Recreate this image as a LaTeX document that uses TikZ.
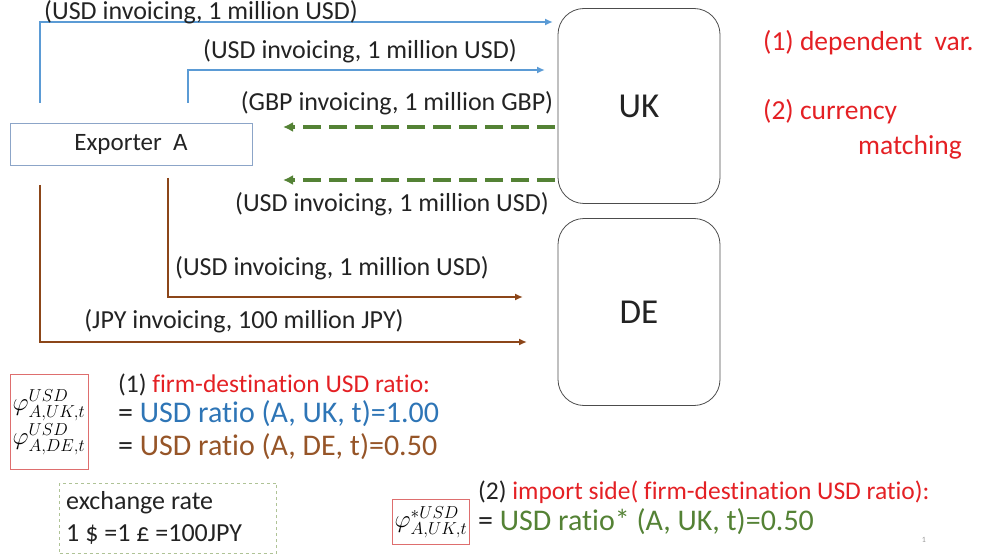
\documentclass[tikz,border=0pt]{standalone}
\usepackage{fontspec}
\setmainfont{Carlito}[Ligatures=NoCommon]
\usepackage{amsmath}
\usetikzlibrary{arrows.meta,positioning}

\definecolor{usdblue}{RGB}{91,155,213}
\definecolor{txtblue}{RGB}{46,117,182}
\definecolor{flowgreen}{RGB}{84,130,53}
\definecolor{flowbrown}{RGB}{140,70,25}
\definecolor{txtbrown}{RGB}{150,85,40}
\definecolor{hired}{RGB}{228,32,36}
\definecolor{boxred}{RGB}{222,110,110}
\definecolor{expframe}{RGB}{140,165,200}
\definecolor{rateframe}{RGB}{175,195,150}
\definecolor{ink}{RGB}{35,35,35}

\newcommand{\phisym}[3]{\varphi^{\scriptscriptstyle #1}_{\scriptscriptstyle #2,#3,t}}

\tikzset{
  country/.style={draw=black!70,rounded corners=26pt,minimum width=162pt,thick,
    font=\fontsize{35}{40}\selectfont,text=ink},
  exporter/.style={draw=expframe,minimum width=242pt,minimum height=42pt,
    font=\fontsize{25}{30}\selectfont,text=ink},
  lbl/.style={font=\fontsize{26}{30}\selectfont,text=ink,inner sep=0pt},
  usd/.style={-{Latex[length=8pt,width=7pt]},usdblue,line width=2.2pt},
  back/.style={-{Latex[length=10pt,width=10pt]},flowgreen,line width=3.5pt,
    dash pattern=on 18pt off 8pt},
  jp/.style={-{Latex[length=8pt,width=7pt]},flowbrown,line width=2.2pt},
  side/.style={font=\fontsize{27.5}{32}\selectfont,text=hired,inner sep=0pt,anchor=west},
  eq/.style={font=\fontsize{30}{34}\selectfont,inner sep=0pt,anchor=west},
  small/.style={font=\fontsize{26}{30}\selectfont,text=ink},
  phibox/.style={draw=boxred,thick,font=\fontsize{35}{36}\selectfont,inner sep=1pt}
}

\begin{document}
\begin{tikzpicture}[x=1pt,y=-1pt]
      \useasboundingbox (0,0) rectangle (990,556);
      \node [country,minimum height=195pt] (uk) at (639,106) {UK};
      \node [country,minimum height=187pt] (de) at (639,312) {DE};
      \node [exporter] (expA) at (131,144) {Exporter\ \ A};

      \coordinate (s1) at (40,103);
      \coordinate (e1) at (553,22);
      \coordinate (s2) at (188,103);
      \coordinate (e2) at (545,70);
      \coordinate (g1s) at (555,127);
      \coordinate (g1e) at (283,127);
      \coordinate (g2s) at (555,180);
      \coordinate (g2e) at (283,180);
      \coordinate (b1s) at (168,178);
      \coordinate (b1e) at (523,297);
      \coordinate (b2s) at (40,185);
      \coordinate (b2e) at (527,342);

      \draw [usd] (s1) |- (e1);
      \draw [usd] (s2) |- (e2);
      \draw [back] (g1s) -- (g1e);
      \draw [back] (g2s) -- (g2e);
      \draw [jp] (b1s) |- (b1e);
      \draw [jp] (b2s) |- (b2e);

      \node [lbl,anchor=west] (l1) at (44,12) {(USD invoicing, 1 million USD)};
      \node [lbl] (l2) at (360,51) {(USD invoicing, 1 million USD)};
      \node [lbl] (l3) at (397,103) {(GBP invoicing, 1 million GBP)};
      \node [lbl] (l4) at (392,204) {(USD invoicing, 1 million USD)};
      \node [lbl] (l5) at (332,268) {(USD invoicing, 1 million USD)};
      \node [lbl] (l6) at (244,321) {(JPY invoicing, 100 million JPY)};

      % right side notes
      \node [side] (dep) at (763,43) {(1) dependent\ \ var.};
      \node [side] (cur) at (763,112) {(2) currency};
      \node [side] (mat) at (858,147) {matching};

      % firm-destination ratios
      \node [phibox,align=center,minimum width=78pt,minimum height=95pt] (phi) at (49,422)
        {$\phisym{USD}{A}{UK}$\\[-2pt]$\phisym{USD}{A}{DE}$};
      \node [eq,font=\fontsize{25.5}{30}\selectfont,text=ink] (r1) at (118,385)
        {(1) \textcolor{hired}{firm-destination USD ratio:}};
      \node [eq,text=txtblue] (r2) at (118,414) {\textcolor{ink}{=} USD ratio (A, UK, t)=1.00};
      \node [eq,text=txtbrown] (r3) at (118,447) {\textcolor{ink}{=} USD ratio (A, DE, t)=0.50};

      \node [draw=rateframe,dashed,minimum width=217pt,minimum height=70pt] (rate) at (168,518) {};
      \node [eq,small] (rt1) at (66,503) {exchange rate};
      \node [eq,small] (rt2) at (66,535) {1 \$ =1 £ =100JPY};

      % import side
      \node [phibox,minimum width=77pt,minimum height=45pt] (phis) at (431,522) {$\phisym{*USD}{A}{UK}$};
      \node [eq,font=\fontsize{25.5}{30}\selectfont,text=ink] (r4) at (478,492)
        {(2) \textcolor{hired}{import side( firm-destination USD ratio):}};
      \node [eq,text=flowgreen] (r5) at (478,522) {\textcolor{ink}{=} USD ratio* (A, UK, t)=0.50};

      \node [font=\fontsize{8}{9}\selectfont,text=black!40] (pg) at (924,540) {1};
\end{tikzpicture}
\end{document}
